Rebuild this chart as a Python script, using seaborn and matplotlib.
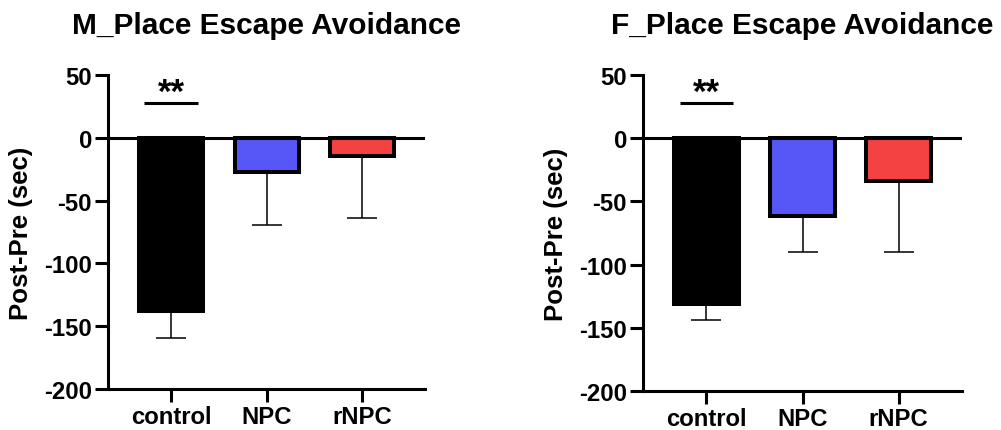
import matplotlib
matplotlib.use('Agg')
import matplotlib.pyplot as plt
import pandas as pd
import seaborn as sns

# Data
groups = ['control', 'NPC', 'rNPC']
bar_colors = ['#000000', '#5757F7', '#F44242']

m_mean = [-137.5, -27.0, -14.5]
m_err = [21.5, 42.5, 49.0]

f_mean = [-131.0, -61.5, -34.0]
f_err = [13.0, 28.5, 56.0]

titles = ['M_Place Escape Avoidance', 'F_Place Escape Avoidance']
sig_label = '**'
sig_y = 28

sns.set_theme(style='white')
plt.rcParams['font.family'] = ['Liberation Sans', 'DejaVu Sans']
plt.rcParams['font.weight'] = 'bold'
plt.rcParams['axes.unicode_minus'] = False
plt.rcParams['text.color'] = 'black'
plt.rcParams['axes.labelcolor'] = 'black'
plt.rcParams['xtick.color'] = 'black'
plt.rcParams['ytick.color'] = 'black'

fig = plt.figure(figsize=(10.01, 4.31), dpi=100)
ax_m = fig.add_axes([0.1079, 0.0951, 0.3167, 0.7286])
ax_f = fig.add_axes([0.6424, 0.0905, 0.3187, 0.7332])


def draw_panel(ax, means, errs, title):
    df = pd.DataFrame({'group': groups, 'value': means})
    sns.barplot(data=df, x='group', y='value', hue='group', palette=bar_colors,
                saturation=1, width=0.67, edgecolor='black', linewidth=2.9,
                errorbar=None, legend=False, ax=ax, zorder=3)
    # one-sided (downward) error bars
    ax.errorbar(range(len(groups)), means, yerr=[errs, [0] * len(errs)],
                fmt='none', ecolor='black', elinewidth=1.1, capsize=11,
                capthick=1.1, zorder=2)
    ax.axhline(0, color='black', linewidth=2.2, zorder=4)

    ax.set_ylim(-200, 50)
    ax.set_xlim(-0.66, 2.66)
    ax.set_yticks([50, 0, -50, -100, -150, -200])
    ax.set_xlabel('')
    ax.set_ylabel('Post-Pre (sec)', fontsize=18.5, fontweight='bold', color='black')
    ax.yaxis.set_label_coords(-0.236, 0.5)

    for s in ['top', 'right']:
        ax.spines[s].set_visible(False)
    for s in ['left', 'bottom']:
        ax.spines[s].set_linewidth(2.2)
        ax.spines[s].set_color('black')
    ax.tick_params(axis='both', which='major', length=9.5, width=2.2,
                   color='black', labelcolor='black', labelsize=17.2, pad=2,
                   left=True, bottom=True)
    for lab in ax.get_xticklabels() + ax.get_yticklabels():
        lab.set_fontweight('bold')

    # significance marker above control
    ax.plot([-0.28, 0.28], [sig_y, sig_y], color='black', linewidth=2.2,
            solid_capstyle='butt', clip_on=False)
    ax.text(0, sig_y + 1, sig_label, ha='center', va='baseline', fontsize=25,
            fontweight='bold', color='black')

    ax.set_title(title, fontsize=21.5, fontweight='bold', pad=30, color='black')


draw_panel(ax_m, m_mean, m_err, titles[0])
draw_panel(ax_f, f_mean, f_err, titles[1])

fig.savefig('out.png', dpi=100)
